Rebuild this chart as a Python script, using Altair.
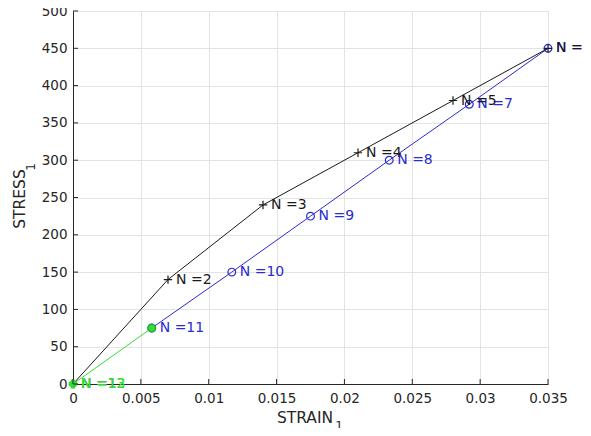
import altair as alt
import pandas as pd

# loading branch (black, + markers)
load_n = [1, 2, 3, 4, 5, 6]
load_strain = [0.0, 0.007, 0.014, 0.021, 0.028, 0.035]
load_stress = [0, 140, 240, 310, 380, 450]

# unloading branch (blue, o markers)
unload_n = [6, 7, 8, 9, 10, 11]
unload_strain = [0.035, 0.0292, 0.0233, 0.0175, 0.0117, 0.0058]
unload_stress = [450, 375, 300, 225, 150, 75]

# final branch (green)
final_n = [11, 12, 13]
final_strain = [0.0058, 0.0, 0.0]
final_stress = [75, 0, 0]

x_ticks = [0, 0.005, 0.01, 0.015, 0.02, 0.025, 0.03, 0.035]
y_ticks = [0, 50, 100, 150, 200, 250, 300, 350, 400, 450, 500]

x_title, y_title, subscript = "STRAIN", "STRESS", "1"

BLACK = "#1a1a1a"
BLUE = "#2a2ad4"
GREEN = "#33dd33"
AXC = "#262626"
FONT = "DejaVu Sans"
W, H = 475, 373


def frame(n, s, st):
    return pd.DataFrame({"n": n, "strain": s, "stress": st,
                         "label": [f"N ={k}" for k in n],
                         "order": list(range(len(n)))})


load = frame(load_n, load_strain, load_stress)
unload = frame(unload_n, unload_strain, unload_stress)
final = frame(final_n, final_strain, final_stress)

xs = alt.Scale(domain=[0, 0.035], nice=False, zero=False)
ys = alt.Scale(domain=[0, 500], nice=False)

common_axis = dict(grid=True, gridColor="#e3e3e3", domainColor=AXC, ticks=False,
                   labelColor=AXC, labelFontSize=13.5, labelFont=FONT,
                   labelOverlap=False, labelFlush=False, title=None)
X = alt.X("strain:Q", scale=xs,
          axis=alt.Axis(values=x_ticks, format="~g", labelPadding=7, **common_axis))
Y = alt.Y("stress:Q", scale=ys,
          axis=alt.Axis(values=y_ticks, labelPadding=6, **common_axis))


def branch(df, color, shape, filled=False, size=70):
    base = alt.Chart(df)
    line = base.mark_line(color=color, strokeWidth=1).encode(x=X, y=Y, order="order:Q")
    pts = base.mark_point(color=color, shape=shape, size=size, filled=filled,
                          strokeWidth=1.2, opacity=1).encode(x=X, y=Y)
    txt = base.mark_text(color=color, align="left", baseline="middle", dx=8,
                         fontSize=14, font=FONT).encode(x=X, y=Y, text="label:N")
    return [line, pts, txt]


cross = "M-1,0L1,0M0,-1L0,1"

layers = []
layers += branch(unload, BLUE, "circle", size=60)
layers += branch(load, BLACK, cross, size=70)
layers += branch(final.iloc[1:], GREEN, "cross", size=50)
# green line from N=11 to origin
layers.append(alt.Chart(final).mark_line(color=GREEN, strokeWidth=1).encode(x=X, y=Y, order="order:Q"))
layers.append(alt.Chart(final.iloc[:1]).mark_point(color=GREEN, filled=True, size=60, opacity=1,
                                                    stroke="#22aa22", strokeWidth=1).encode(x=X, y=Y))
# asterisk marker at origin
layers.append(alt.Chart(final.iloc[1:2]).mark_point(
    color=GREEN, shape="M-1,0L1,0M0,-1L0,1M-0.7,-0.7L0.7,0.7M-0.7,0.7L0.7,-0.7",
    size=60, strokeWidth=1.5, opacity=1).encode(x=X, y=Y))

# inward tick marks
xt = pd.DataFrame({"strain": x_ticks})
yt = pd.DataFrame({"stress": y_ticks})
layers.append(alt.Chart(xt).mark_rule(color=AXC).encode(
    x=X, y=alt.value(H), y2=alt.value(H - 5)))
layers.append(alt.Chart(yt).mark_rule(color=AXC).encode(
    y=Y, x=alt.value(0), x2=alt.value(5)))

# axis titles with subscripts
t = pd.DataFrame({"a": [0]})
layers.append(alt.Chart(t).mark_text(text=x_title, fontSize=15.5, font=FONT, color=AXC,
                                     align="center", baseline="alphabetic").encode(
    x=alt.value(232), y=alt.value(412)))
layers.append(alt.Chart(t).mark_text(text=subscript, fontSize=12, font=FONT, color=AXC,
                                     align="center", baseline="alphabetic").encode(
    x=alt.value(266), y=alt.value(419)))
layers.append(alt.Chart(t).mark_text(text=y_title, fontSize=15.5, font=FONT, color=AXC,
                                     align="center", baseline="middle", angle=270).encode(
    x=alt.value(-53), y=alt.value(188)))
layers.append(alt.Chart(t).mark_text(text=subscript, fontSize=12, font=FONT, color=AXC,
                                     align="center", baseline="middle", angle=270).encode(
    x=alt.value(-42), y=alt.value(156)))

chart = alt.layer(*layers).properties(
    width=W, height=H,
    autosize=alt.AutoSizeParams(type="none"),
    padding={"left": 65, "top": 3, "right": 35, "bottom": 44},
).configure_view(stroke=None).configure(background="white")

chart.save("out.html", embed_options={"renderer": "svg", "actions": False})
